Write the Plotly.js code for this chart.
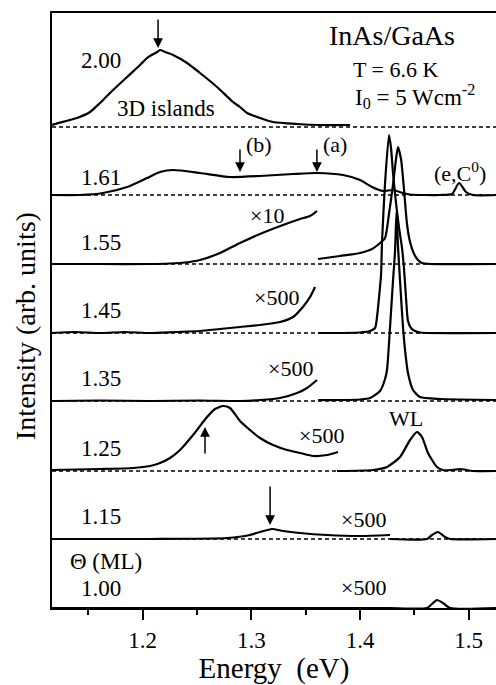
<!DOCTYPE html>
<html>
<head>
<meta charset="utf-8">
<script src="https://cdn.plot.ly/plotly-3.0.1.min.js"></script>
<style>html,body{margin:0;padding:0;background:#fff;}#chart{width:496px;height:685px;}</style>
</head>
<body>
<div id="chart"></div>
<script>
// Coverage labels (ML) and vertical offsets of each spectrum's zero line (arb. units)
const coverages = ['2.00','1.61','1.55','1.45','1.35','1.25','1.15','1.00'];
const offsets   = [481, 413, 344, 275, 207, 137, 69, 0];

// Spectra: energy (eV) and intensity above the zero line (arb. units)
// "s" = scaled low-energy part (x10 / x500), "m" = main part
const E200  = [1.1165,1.1193,1.1395,1.1515,1.1607,1.1699,1.1856,1.1975,1.2040,1.2067,1.2132,1.2159,1.2205,1.2279,1.2408,1.2527,1.2684,1.2831,1.2895,1.2960,1.3079,1.3199,1.3420,1.3632,1.3908];
const I200  = [2,3,9,15,24,34,50,62,69,71,75,77,75,72,64,54,40,25,20,14,9,5,3,2,2];

const E161  = [1.1165,1.1423,1.1635,1.1856,1.2040,1.2159,1.2279,1.2527,1.2803,1.3079,1.3383,1.3604,1.3843,1.4000,1.4110,1.4211,1.4303,1.4395,1.4460,1.4736,1.4846,1.4911,1.4975,1.5040,1.5251];
const I161  = [0,0,2,8,17,23,25,22,18,19,21,22,20,15,8,4,5,2,0.5,0,1,12,3,0,0];

const E155s = [1.1165,1.1607,1.2067,1.2251,1.2389,1.2527,1.2711,1.2895,1.3079,1.3291,1.3448,1.3540,1.3604];
const I155s = [0,0,0,0.5,1.5,4,11,21,30,39,45,48,53];
const E155m = [1.3613,1.3816,1.4000,1.4110,1.4184,1.4230,1.4266,1.4303,1.4331,1.4349,1.4377,1.4404,1.4432,1.4460,1.4497,1.4533,1.4570,1.4644,1.5251];
const I155m = [5,8,11,15,21,26,50,79,105,117,105,75,40,22,10,4,1,0,0];

const E145s = [1.1165,1.1377,1.1607,1.1837,1.2067,1.2297,1.2527,1.2711,1.2895,1.3079,1.3263,1.3383,1.3466,1.3540,1.3586];
const I145s = [0,1,0,1,0,1,2,4,6,8,11,16,25,36,46];
const E145m = [1.3613,1.4000,1.4092,1.4138,1.4156,1.4174,1.4193,1.4202,1.4230,1.4266,1.4285,1.4303,1.4331,1.4359,1.4386,1.4404,1.4423,1.4441,1.4469,1.4506,1.4552,1.5251];
const I145m = [0,0.5,2,5,16,35,58,91,150,198,185,160,130,105,85,65,35,12,5,2,0.5,0];

const E135s = [1.1165,1.1607,1.2067,1.2527,1.2895,1.3079,1.3263,1.3420,1.3512,1.3604];
const I135s = [0,0.5,0,0.5,0,1,3,8,13,21];
const E135m = [1.3613,1.3816,1.4000,1.4092,1.4184,1.4230,1.4248,1.4276,1.4303,1.4322,1.4335,1.4349,1.4368,1.4395,1.4423,1.4441,1.4487,1.4552,1.4736,1.5251];
const I135m = [1,1,1.5,3,10,22,31,74,120,150,189,155,120,74,42,28,11,4,2,1];

const E125s = [1.1165,1.1607,1.1911,1.2067,1.2159,1.2251,1.2343,1.2463,1.2592,1.2665,1.2739,1.2803,1.2895,1.2987,1.3079,1.3199,1.3328,1.3448,1.3567,1.3696,1.3797];
const I125s = [1,2,3,5,8,13,21,36,54,62,65,63,50,41,33,26,21,18,15,16,19];
const E125m = [1.3788,1.4119,1.4248,1.4368,1.4460,1.4524,1.4570,1.4625,1.4708,1.4763,1.4846,1.4920,1.5040,1.5251];
const I125m = [0,1,4,14,31,39,34,18,4,1,1,2,0,0];

const E115s = [1.1165,1.2067,1.2776,1.2987,1.3079,1.3190,1.3291,1.3448,1.3696,1.4000,1.4276];
const I115s = [0,0,1,4,7,10,8,6,4,3,4];
const E115m = [1.4276,1.4616,1.4662,1.4717,1.4782,1.4828,1.5251];
const I115m = [0,0,4,7,2,0,0];

const E100s = [1.1165,1.2500,1.4276];
const I100s = [0,0,0];
const E100m = [1.4276,1.4616,1.4662,1.4708,1.4763,1.4828,1.5251];
const I100m = [0,0,4,8,5,0,0];

const spectra = [
  {cov:'2.00', parts:[[E200,I200]]},
  {cov:'1.61', parts:[[E161,I161]]},
  {cov:'1.55', parts:[[E155s,I155s],[E155m,I155m]]},
  {cov:'1.45', parts:[[E145s,I145s],[E145m,I145m]]},
  {cov:'1.35', parts:[[E135s,I135s],[E135m,I135m]]},
  {cov:'1.25', parts:[[E125s,I125s],[E125m,I125m]]},
  {cov:'1.15', parts:[[E115s,I115s],[E115m,I115m]]},
  {cov:'1.00', parts:[[E100s,I100s],[E100m,I100m]]}
];

const xTicks = [1.2, 1.3, 1.4, 1.5];
const xTickText = ['1.2','1.3','1.4','1.5'];

const FONT = 'Liberation Serif, Times New Roman, serif';
const traces = [];
spectra.forEach(s => {
  const off = offsets[coverages.indexOf(s.cov)];
  s.parts.forEach(p => {
    traces.push({
      x: p[0], y: p[1].map(v => v + off), type: 'scatter', mode: 'lines',
      line: {color: '#000', width: 2.2, shape: 'spline', smoothing: 0.6},
      hoverinfo: 'skip', showlegend: false
    });
  });
});

// dotted zero lines
const shapes = offsets.filter(o => o > 0).map(o => ({
  type: 'line', xref: 'paper', x0: 0, x1: 1, yref: 'y', y0: o, y1: o,
  line: {color: '#000', width: 1.5, dash: '4px,3px'}, layer: 'below'
}));

function txt(x, y, text, size, extra) {
  return Object.assign({x: x, y: y, xref: 'x', yref: 'y', text: text, showarrow: false,
    font: {family: FONT, size: size, color: '#000'}, xanchor: 'center', yanchor: 'middle'}, extra || {});
}
function arrow(x, y, ay) {
  return {x: x, y: y, xref: 'x', yref: 'y', text: '', showarrow: true, ax: 0, ay: ay,
    arrowhead: 2, arrowsize: 1.3, arrowwidth: 1.5, arrowcolor: '#000'};
}

const labelX = 1.1617;
const labelY = [548, 431, 366, 298, 230, 160, 92, 20];
const annotations = coverages.map((c, i) => txt(labelX, labelY[i], c, 23));
annotations.push(
  txt(1.1660, 47, 'Θ (ML)', 23),
  txt(1.2215, 500, '3D islands', 23),
  txt(1.4294, 573, 'InAs/GaAs', 28),
  txt(1.4330, 539, 'T = 6.6 K', 22),
  txt(1.4510, 512, 'I<sub>0</sub> = 5 Wcm<sup>-2</sup>', 23),
  txt(1.4920, 436, '(e,C<sup>0</sup>)', 22),
  txt(1.3070, 464, '(b)', 22),
  txt(1.3770, 464, '(a)', 22),
  txt(1.3145, 393, '×10', 22),
  txt(1.3227, 311, '×500', 22),
  txt(1.3356, 240, '×500', 22),
  txt(1.3641, 173, '×500', 22),
  txt(1.4423, 190, 'WL', 22),
  txt(1.4027, 89, '×500', 22),
  txt(1.4027, 21, '×500', 22),
  arrow(1.2141, 560, -30),
  arrow(1.2895, 436, -24),
  arrow(1.3603, 436, -24),
  arrow(1.2573, 181, 28),
  arrow(1.3172, 83, -40),
  {xref: 'paper', yref: 'paper', x: -0.0586, y: 0.474, text: 'Intensity (arb. units)',
   textangle: -90, showarrow: false, xanchor: 'center', yanchor: 'middle',
   font: {family: FONT, size: 28, color: '#000'}}
);

const layout = {
  width: 496, height: 685,
  margin: {l: 52, r: 0, t: 13, b: 77},
  paper_bgcolor: '#fff', plot_bgcolor: '#fff',
  showlegend: false,
  font: {family: FONT, color: '#000'},
  xaxis: {
    range: [1.1165, 1.5251], showgrid: false, zeroline: false,
    showline: true, linewidth: 2, linecolor: '#000', mirror: true,
    ticks: 'outside', ticklen: 10, tickwidth: 2, tickcolor: '#000',
    tickvals: xTicks, ticktext: xTickText,
    minor: {tickvals: [1.15, 1.25, 1.35, 1.45], ticks: 'outside', ticklen: 5, tickwidth: 2, tickcolor: '#000', showgrid: false},
    tickfont: {family: FONT, size: 23, color: '#000'},
    title: {text: 'Energy\u00a0\u00a0(eV)', font: {family: FONT, size: 29, color: '#000'}, standoff: 5}
  },
  yaxis: {
    range: [0, 595], showgrid: false, zeroline: false, showline: true, linewidth: 2,
    linecolor: '#000', mirror: false, ticks: '', showticklabels: false
  },
  shapes: shapes,
  annotations: annotations
};

Plotly.newPlot('chart', traces, layout, {displayModeBar: false, staticPlot: true});
</script>
</body>
</html>
